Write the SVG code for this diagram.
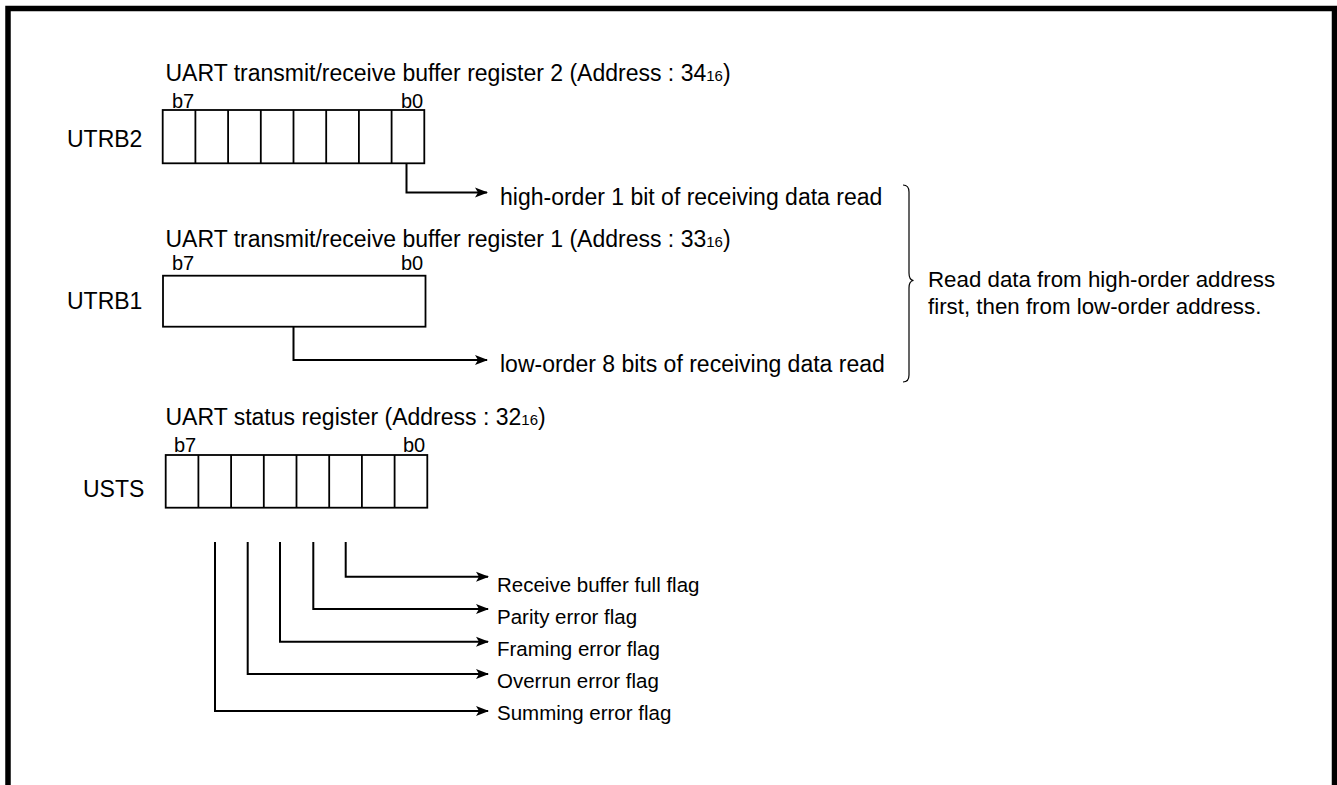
<svg xmlns="http://www.w3.org/2000/svg" width="1337" height="785" viewBox="0 0 1337 785">
<style>
text{font-family:"Liberation Sans",Arial,sans-serif;fill:#000}
.t{font-size:23px}
.r{font-size:22.3px}
.s{font-size:15px}
.b{font-size:20px}
.f{font-size:20.5px}
.box{fill:#fff;stroke:#000;stroke-width:1.8}
.cell{stroke:#000;stroke-width:1.8;fill:none}
.con{fill:none;stroke:#000;stroke-width:2}
</style>
<defs>
<marker id="arr" viewBox="0 0 13 11" refX="12" refY="5.5" markerWidth="13" markerHeight="11" markerUnits="userSpaceOnUse" orient="auto">
<path d="M0,0.5 L13,5.5 L0,10.5 L3,5.5 Z" fill="#000"/>
</marker>
</defs>
<rect width="1337" height="785" fill="#fff"/>
<path d="M8,790 V8.5 H1334.5 V790" fill="none" stroke="#000" stroke-width="5.5"/>

<g id="utrb2">
<text class="t" x="165.5" y="81">UART transmit/receive buffer register 2 (Address : 34<tspan class="s">16</tspan>)</text>
<text class="b" x="172" y="108">b7</text>
<text class="b" x="401" y="108">b0</text>
<text class="t" x="67" y="147">UTRB2</text>
<rect class="box" x="162.7" y="110" width="261.6" height="53.3"/>
<path class="cell" d="M195.4,110V163.3M228.1,110V163.3M260.8,110V163.3M293.5,110V163.3M326.2,110V163.3M358.9,110V163.3M391.6,110V163.3"/>
</g>

<g id="utrb1">
<text class="t" x="165.5" y="247">UART transmit/receive buffer register 1 (Address : 33<tspan class="s">16</tspan>)</text>
<text class="b" x="172" y="270">b7</text>
<text class="b" x="401" y="270">b0</text>
<text class="t" x="67" y="309">UTRB1</text>
<rect class="box" x="163" y="275.7" width="262.5" height="51"/>
</g>

<g id="usts">
<text class="t" x="165.5" y="425">UART status register (Address : 32<tspan class="s">16</tspan>)</text>
<text class="b" x="174" y="452">b7</text>
<text class="b" x="403" y="452">b0</text>
<text class="t" x="83" y="497">USTS</text>
<rect class="box" x="165.7" y="455" width="261.6" height="52.7"/>
<path class="cell" d="M198.4,455V507.7M231.1,455V507.7M263.8,455V507.7M296.5,455V507.7M329.2,455V507.7M361.9,455V507.7M394.6,455V507.7"/>
</g>

<g id="labels">
<text class="t" x="500" y="205">high-order 1 bit of receiving data read</text>
<text class="t" x="500" y="372">low-order 8 bits of receiving data read</text>
<text class="r" x="928" y="286.5">Read data from high-order address</text>
<text class="r" x="928" y="313.5">first, then from low-order address.</text>
<text class="f" x="497" y="591.5">Receive buffer full flag</text>
<text class="f" x="497" y="623.5">Parity error flag</text>
<text class="f" x="497" y="656">Framing error flag</text>
<text class="f" x="497" y="688">Overrun error flag</text>
<text class="f" x="497" y="720">Summing error flag</text>
</g>

<g id="connectors">
<path class="con" marker-end="url(#arr)" d="M406.5,163.3V192.5H487"/>
<path class="con" marker-end="url(#arr)" d="M293.5,326.7V360H487"/>
<path class="con" marker-end="url(#arr)" d="M345.7,542V576.7H488"/>
<path class="con" marker-end="url(#arr)" d="M313.3,542V609H488"/>
<path class="con" marker-end="url(#arr)" d="M280,542V641.7H488"/>
<path class="con" marker-end="url(#arr)" d="M247.7,542V674H488"/>
<path class="con" marker-end="url(#arr)" d="M215,542V711H488"/>
<path fill="none" stroke="#000" stroke-width="1.2" d="M903,185 Q909,185 909,192 V273 Q909,280 913.5,280.5 Q909,281 909,288 V375 Q909,382 903,382"/>
</g>
</svg>
